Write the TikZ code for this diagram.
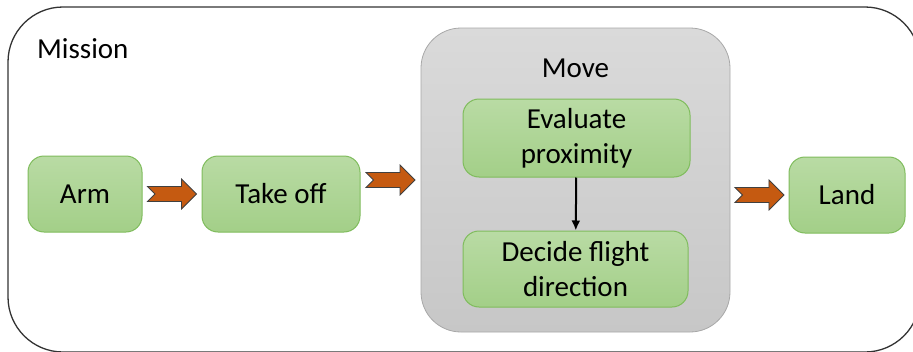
\documentclass[tikz,border=0pt]{standalone}
\usepackage{fontspec}
\setmainfont{Carlito}
\usetikzlibrary{calc,arrows.meta}

\definecolor{greentop}{HTML}{B9DBA4}
\definecolor{greenbot}{HTML}{A3CF88}
\definecolor{greenline}{HTML}{7FBC5C}
\definecolor{movetop}{HTML}{DADADA}
\definecolor{movebot}{HTML}{C7C7C7}
\definecolor{moveline}{HTML}{A8A8A8}
\definecolor{fatorange}{HTML}{C55A11}

% notched orange arrow half way between two nodes
\newcommand{\fatarrow}[2]{%
	\coordinate (m) at ($(#1.east)!0.5!(#2.west)$);
	\begin{scope}[shift={(m |- #2.west)}]
	\draw[fatarr] (-24.5,-7.5) -- (9.5,-7.5) -- (9.5,-15) -- (24.5,0) -- (9.5,15)
		-- (9.5,7.5) -- (-24.5,7.5) -- (-17,0) -- cycle;
	\end{scope}}

\begin{document}
\begin{tikzpicture}[x=1pt,y=-1pt,
	font=\fontsize{29}{35}\selectfont,
	step box/.style={draw=greenline, line width=1pt, top color=greentop, bottom color=greenbot,
		rounded corners=16pt, align=center, inner sep=0pt, minimum height=76pt},
	fatarr/.style={fill=fatorange, draw=black!75, line width=0.8pt, line join=miter}]
	
	\useasboundingbox (0,0) rectangle (913,351);
	
	% outer frame
	\draw[black!80, line width=1.3pt, rounded corners=55pt] (8,7) rectangle (920,352);
	\node[anchor=base west, inner sep=0pt] (mission) at (37,58) {Mission};
	
	% move block
	\node[draw=moveline, line width=0.8pt, top color=movetop, bottom color=movebot,
		rounded corners=40pt, minimum width=309pt, minimum height=304pt] (move) at (575.5,180) {};
	\node[anchor=base, inner sep=0pt] (movetxt) at (575.5,77) {Move};
	
	\node[step box, minimum width=114pt] (arm) at (85,194) {Arm};
	\node[step box, minimum width=158pt] (takeoff) at (281,194) {Take off};
	\node[step box, minimum width=227pt, minimum height=78pt] (evaluate) at (576.5,138) {Evaluate\\proximity};
	\node[step box, minimum width=225pt] (decide) at (575.5,269) {Decide flight\\direction};
	\node[step box, minimum width=116pt] (land) at (847,195) {Land};
	
	\draw[-{Latex[length=10pt,width=9pt]}, line width=2pt] (evaluate) -- (decide);
	
	\fatarrow{arm}{takeoff}
	\fatarrow{takeoff}{move}
	\fatarrow{move}{land}
\end{tikzpicture}
\end{document}
